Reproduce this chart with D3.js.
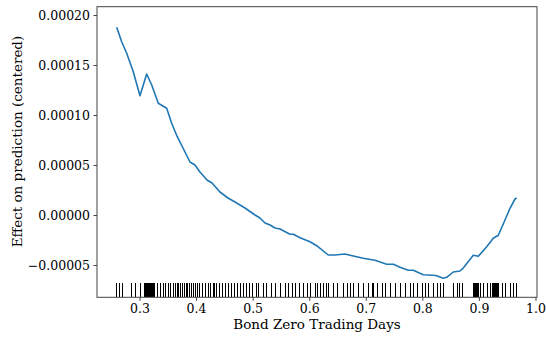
<!DOCTYPE html>
<html>
<head>
<meta charset="utf-8">
<script src="https://cdn.jsdelivr.net/npm/d3@7"></script>
<style>
  html, body { margin: 0; padding: 0; background: #fff; }
  svg { display: block; }
  svg text { font-family: 'DejaVu Serif', serif !important; fill: #000; }
</style>
</head>
<body>
<svg id="chart" width="546" height="338"></svg>
<script>
// Partial dependence of the prediction on "Bond Zero Trading Days"
const effectX = [0.2597, 0.2685, 0.2774, 0.2890, 0.3009, 0.3127, 0.3216, 0.3332, 0.3481, 0.3569,
  0.3668, 0.3769, 0.3893, 0.3981, 0.4069, 0.4193, 0.4282, 0.4423, 0.4564, 0.4688,
  0.4865, 0.5042, 0.5130, 0.5219, 0.5308, 0.5396, 0.5484, 0.5661, 0.5719, 0.5837,
  0.6014, 0.6132, 0.6337, 0.6456, 0.6632, 0.6779, 0.6956, 0.7163, 0.7370, 0.7487,
  0.7605, 0.7752, 0.7840, 0.8017, 0.8194, 0.8254, 0.8370, 0.8430, 0.8547, 0.8666,
  0.8713, 0.8901, 0.8989, 0.9138, 0.9254, 0.9343, 0.9431, 0.9550, 0.9638, 0.9668];
const effectY = [0.0001877, 0.0001733, 0.0001617, 0.0001433, 0.0001193, 0.0001410, 0.0001300, 0.0001117, 0.0001067, 0.0000917,
  0.0000783, 0.0000670, 0.0000530, 0.0000500, 0.0000430, 0.0000350, 0.0000320, 0.0000230, 0.0000170, 0.0000130,
  0.0000070, 0.0000000, -0.0000030, -0.0000080, -0.0000100, -0.0000130, -0.0000140, -0.0000193, -0.0000193, -0.0000227,
  -0.0000267, -0.0000307, -0.0000400, -0.0000400, -0.0000390, -0.0000410, -0.0000433, -0.0000453, -0.0000493, -0.0000493,
  -0.0000523, -0.0000553, -0.0000553, -0.0000597, -0.0000603, -0.0000607, -0.0000633, -0.0000623, -0.0000570, -0.0000560,
  -0.0000537, -0.0000403, -0.0000413, -0.0000317, -0.0000233, -0.0000203, -0.0000090, 0.0000067, 0.0000160, 0.0000170];

// Observed feature values shown as a rug along the bottom
const rugValues = [0.2585, 0.2638, 0.2691, 0.2850, 0.2920, 0.3009, 0.3080, 0.3097, 0.3115, 0.3133,
  0.3150, 0.3168, 0.3186, 0.3203, 0.3221, 0.3239, 0.3257, 0.3309, 0.3362, 0.3415,
  0.3451, 0.3504, 0.3539, 0.3592, 0.3628, 0.3663, 0.3681, 0.3716, 0.3751, 0.3787,
  0.3822, 0.3840, 0.3875, 0.3910, 0.3946, 0.3981, 0.4016, 0.4052, 0.4105, 0.4158,
  0.4211, 0.4246, 0.4299, 0.4317, 0.4352, 0.4405, 0.4458, 0.4511, 0.4564, 0.4617,
  0.4670, 0.4723, 0.4776, 0.4829, 0.4882, 0.4935, 0.4988, 0.5059, 0.5094, 0.5183,
  0.5236, 0.5324, 0.5395, 0.5483, 0.5572, 0.5625, 0.5696, 0.5749, 0.5819, 0.5890,
  0.5961, 0.6014, 0.6103, 0.6138, 0.6191, 0.6244, 0.6297, 0.6332, 0.6421, 0.6491,
  0.6597, 0.6668, 0.6721, 0.6774, 0.6862, 0.6951, 0.7039, 0.7110, 0.7128, 0.7198,
  0.7287, 0.7340, 0.7428, 0.7517, 0.7605, 0.7694, 0.7782, 0.7835, 0.7906, 0.7994,
  0.8047, 0.8100, 0.8189, 0.8259, 0.8312, 0.8365, 0.8542, 0.8613, 0.8648, 0.8701,
  0.8896, 0.8913, 0.8931, 0.8949, 0.8966, 0.8984, 0.9020, 0.9073, 0.9143, 0.9196,
  0.9231, 0.9249, 0.9267, 0.9284, 0.9302, 0.9320, 0.9337, 0.9408, 0.9461, 0.9550,
  0.9603, 0.9656];

const xTicks = [0.3, 0.4, 0.5, 0.6, 0.7, 0.8, 0.9, 1.0];
const yTicks = [-0.00005, 0.00000, 0.00005, 0.00010, 0.00015, 0.00020];
const xLabel = "Bond Zero Trading Days";
const yLabel = "Effect on prediction (centered)";

const svg = d3.select("#chart");
const plot = { left: 97, right: 537, top: 6.7, bottom: 297.3 };

const x = d3.scaleLinear().domain([0.2249, 1.0027]).range([plot.left, plot.right]);
const y = d3.scaleLinear().domain([-0.0000823, 0.0002083]).range([plot.bottom, plot.top]);

// rug: ticks rising 5% of the axes height from the bottom edge
const rugH = (plot.bottom - plot.top) * 0.05;
svg.append("g")
  .attr("shape-rendering", "crispEdges")
  .selectAll("line")
  .data(rugValues)
  .join("line")
  .attr("x1", d => Math.round(x(d)) + 0.5).attr("x2", d => Math.round(x(d)) + 0.5)
  .attr("y1", plot.bottom).attr("y2", plot.bottom - rugH)
  .attr("stroke", "#000")
  .attr("stroke-width", 1);

// effect curve
const pts = effectX.map((v, i) => [v, effectY[i]]);
svg.append("path")
  .datum(pts)
  .attr("fill", "none")
  .attr("stroke", "#1f77b4")
  .attr("stroke-width", 1.6)
  .attr("stroke-linejoin", "round")
  .attr("d", d3.line().x(d => x(d[0])).y(d => y(d[1])));

// axes frame
svg.append("rect")
  .attr("x", plot.left).attr("y", plot.top)
  .attr("width", plot.right - plot.left).attr("height", plot.bottom - plot.top)
  .attr("fill", "none").attr("stroke", "#444").attr("stroke-width", 1);

// bottom axis
const xAxis = d3.axisBottom(x).tickValues(xTicks).tickFormat(d3.format(".1f")).tickSize(3.5).tickPadding(3.5);
const gx = svg.append("g").attr("transform", `translate(0,${plot.bottom})`).call(xAxis);
gx.attr("font-family", null);
gx.select(".domain").remove();
gx.selectAll(".tick line").attr("stroke", "#444");
gx.selectAll("text").style("font-family", "'DejaVu Serif', serif").attr("font-size", 12.5).attr("fill", "#000");

// left axis
const yAxis = d3.axisLeft(y).tickValues(yTicks)
  .tickFormat(d => d3.format(".5f")(d).replace("-", "\u2212"))
  .tickSize(3.5).tickPadding(3.5);
const gy = svg.append("g").attr("transform", `translate(${plot.left},0)`).call(yAxis);
gy.attr("font-family", null);
gy.select(".domain").remove();
gy.selectAll(".tick line").attr("stroke", "#444");
gy.selectAll("text").style("font-family", "'DejaVu Serif', serif").attr("font-size", 12.5).attr("fill", "#000");

// axis titles
svg.append("text")
  .attr("x", (plot.left + plot.right) / 2).attr("y", 329)
  .attr("text-anchor", "middle")
  .attr("font-size", 13.5)
  .text(xLabel);

svg.append("text")
  .attr("transform", "translate(22,141.5) rotate(-90)")
  .attr("text-anchor", "middle")
  .attr("font-size", 13.5)
  .text(yLabel);
</script>
</body>
</html>
